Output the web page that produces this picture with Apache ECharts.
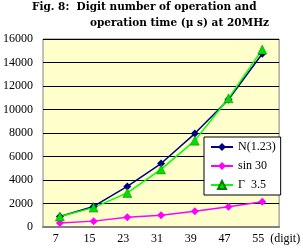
<!DOCTYPE html>
<html><head><meta charset="utf-8">
<script src="https://cdn.jsdelivr.net/npm/echarts@6/dist/echarts.min.js"></script>
<style>html,body{margin:0;padding:0;background:#fff}#c{width:303px;height:249px}</style>
</head><body><div id="c"></div>
<script>
var categories = ['7', '15', '23', '31', '39', '47', '55'];
var seriesN = [900, 1750, 3450, 5400, 7950, 10850, 14750];
var seriesSin = [350, 500, 820, 1000, 1350, 1730, 2150];
var seriesGamma = [900, 1650, 2900, 4900, 7350, 10950, 15100];
var names = ['N(1.23)', 'sin 30', 'Γ  3.5'];
var titleLine1 = 'Fig. 8:  Digit number of operation and';
var titleLine2 = 'operation time (μ s) at 20MHz';
var xUnit = '(digit)';

var serif = '"Liberation Serif", "Times New Roman", serif';
var titleFont = '"DejaVu Serif", serif';
var chart = echarts.init(document.getElementById('c'), null, {renderer: 'canvas'});
chart.setOption({
  animation: false,
  backgroundColor: '#ffffff',
  title: [
    {text: titleLine1, left: 32, top: 2, padding: 0,
     textStyle: {fontFamily: titleFont, fontSize: 10.5, fontWeight: 'bold', color: '#000'}},
    {text: titleLine2, left: 90, top: 18, padding: 0,
     textStyle: {fontFamily: titleFont, fontSize: 10.5, fontWeight: 'bold', color: '#000'}}
  ],
  grid: {left: 43, right: 22, top: 39, bottom: 22, show: true,
         backgroundColor: '#FFFFCC', borderColor: '#808080', borderWidth: 1},
  legend: {
    orient: 'vertical', left: 204, top: 137,
    backgroundColor: '#ffffff', borderColor: '#000', borderWidth: 1,
    padding: [4, 5, 4, 6], itemGap: 7, itemWidth: 22, itemHeight: 10,
    textStyle: {fontFamily: serif, fontSize: 12, color: '#000'},
    data: names
  },
  xAxis: {
    type: 'category', data: categories, boundaryGap: true,
    name: xUnit, nameLocation: 'end', nameGap: -18,
    nameTextStyle: {fontFamily: serif, fontSize: 12, color: '#000', verticalAlign: 'top', padding: [6, 0, 0, 0]},
    axisLine: {lineStyle: {color: '#808080', width: 2}},
    axisTick: {inside: true, length: 3, lineStyle: {color: '#808080'}},
    axisLabel: {fontFamily: serif, fontSize: 12, color: '#000', margin: 6, padding: [0, 8, 0, 0]}
  },
  yAxis: {
    type: 'value', min: 0, max: 16000, interval: 2000,
    axisLine: {show: false}, axisTick: {show: false},
    axisLabel: {fontFamily: serif, fontSize: 12, color: '#000', margin: 10,
                formatter: function (v) { return String(v); }},
    splitLine: {lineStyle: {color: '#000', width: 1}}
  },
  series: [
    {name: names[0], type: 'line', data: seriesN, symbol: 'diamond', symbolSize: 8,
     lineStyle: {color: '#000080', width: 1.5}, itemStyle: {color: '#000080'}},
    {name: names[1], type: 'line', data: seriesSin, symbol: 'diamond', symbolSize: 8,
     lineStyle: {color: '#FF00FF', width: 1.5}, itemStyle: {color: '#FF00FF'}},
    {name: names[2], type: 'line', data: seriesGamma, symbol: 'triangle', symbolSize: 9,
     lineStyle: {color: '#00FF00', width: 1.5}, itemStyle: {color: '#00E000', borderColor: '#008000', borderWidth: 0.5}}
  ]
});
</script></body></html>
